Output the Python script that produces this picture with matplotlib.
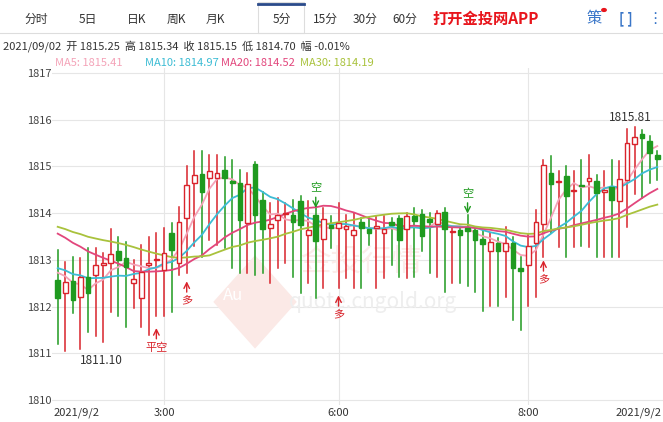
import matplotlib
matplotlib.use("Agg")
import matplotlib.pyplot as plt
import numpy as np
from matplotlib.patches import Rectangle, Polygon

plt.rcParams['font.family'] = ['Noto Sans CJK SC', 'DejaVu Sans']

opens = [1812.57,1812.29,1812.55,1812.21,1812.64,1812.68,1812.89,1812.93,1813.18,1813.05,
         1812.50,1812.18,1812.88,1813.00,1812.79,1813.57,1812.93,1813.89,1814.64,1814.84,
         1814.76,1814.76,1814.93,1814.69,1814.64,1813.79,1815.05,1814.29,1813.69,1813.86,
         1813.99,1813.95,1814.25,1813.54,1813.95,1813.45,1813.75,1813.69,1813.66,1813.54,
         1813.81,1813.66,1813.69,1813.57,1813.81,1813.89,1813.66,1813.93,1813.98,1813.88,
         1813.76,1814.02,1813.60,1813.64,1813.68,1813.64,1813.44,1813.18,1813.36,1813.20,
         1813.36,1812.82,1812.89,1813.37,1813.77,1814.87,1814.66,1814.80,1814.48,1814.60,
         1814.69,1814.69,1814.46,1814.56,1814.27,1814.71,1815.49,1815.70,1815.54,1815.25]
closes = [1812.18,1812.52,1812.14,1812.64,1812.29,1812.89,1812.94,1813.12,1813.00,1812.84,
          1812.60,1812.75,1812.93,1813.02,1813.14,1813.21,1813.82,1814.61,1814.82,1814.46,
          1814.91,1814.86,1814.75,1814.64,1813.86,1814.62,1813.96,1813.66,1813.76,1813.95,
          1814.00,1813.82,1813.75,1813.64,1813.41,1813.88,1813.69,1813.79,1813.73,1813.64,
          1813.68,1813.57,1813.72,1813.66,1813.75,1813.43,1813.93,1813.84,1813.52,1813.81,
          1814.00,1813.66,1813.61,1813.54,1813.61,1813.43,1813.34,1813.39,1813.18,1813.36,
          1812.82,1812.77,1813.29,1813.80,1815.04,1814.63,1814.68,1814.37,1814.50,1814.58,
          1814.75,1814.43,1814.50,1814.29,1814.73,1815.51,1815.62,1815.61,1815.29,1815.15]
highs = [1813.21,1812.96,1813.07,1813.04,1813.25,1813.25,1813.14,1813.66,1813.50,1813.39,
         1813.00,1813.32,1813.50,1813.57,1813.68,1813.79,1814.14,1815.00,1815.34,1815.32,
         1815.25,1815.25,1815.21,1815.14,1814.93,1814.86,1815.10,1814.46,1814.21,1814.32,
         1814.21,1814.29,1814.36,1814.25,1814.14,1814.11,1813.93,1814.21,1813.96,1814.00,
         1813.89,1813.89,1813.93,1813.93,1813.89,1813.93,1814.00,1814.11,1814.07,1814.00,
         1814.04,1814.11,1813.71,1813.71,1813.96,1813.68,1813.61,1813.57,1813.46,1813.70,
         1813.50,1813.07,1813.54,1814.07,1815.14,1815.23,1814.91,1815.01,1814.91,1815.14,
         1815.25,1814.82,1814.91,1815.14,1815.11,1815.81,1815.84,1815.79,1815.66,1815.34]
lows = [1811.20,1811.04,1811.86,1811.10,1811.46,1811.36,1811.25,1811.89,1811.79,1811.57,
        1811.96,1811.57,1811.39,1811.79,1811.79,1811.89,1812.68,1812.71,1813.29,1813.07,
        1813.43,1813.32,1813.25,1812.82,1812.71,1812.71,1812.68,1812.71,1812.50,1812.82,
        1812.93,1812.64,1812.29,1812.50,1812.18,1812.39,1813.25,1812.39,1812.61,1812.39,
        1812.39,1813.32,1812.39,1812.61,1812.89,1812.64,1812.61,1812.64,1813.18,1812.71,
        1812.64,1812.32,1812.50,1812.50,1812.43,1812.32,1811.91,1812.01,1812.01,1812.21,
        1811.71,1811.50,1812.01,1812.21,1813.07,1813.57,1813.27,1813.07,1813.27,1813.29,
        1813.27,1813.07,1813.07,1813.07,1813.07,1813.71,1814.41,1814.32,1814.64,1814.70]
# estimated closes before the visible window (feed the moving averages)
history = [1814.0]*10 + [1814.3]*10 + [1813.0,1812.95,1812.9,1812.9,1812.85,1812.9,1812.85,1812.8,1812.9]
time_labels = ['2021/9/2', '3:00', '6:00', '8:00', '2021/9/2']
time_idx = [None, 14, 37, 62, None]
yticks = [1810, 1811, 1812, 1813, 1814, 1815, 1816, 1817]

RED = '#d9232b'; GREEN = '#1f9a1f'
MA_COLORS = {5: '#f4a3b8', 10: '#3cbcd4', 20: '#e2467c', 30: '#a9c23c'}

W, H = 663, 422
fig = plt.figure(figsize=(W/100, H/100), dpi=100)
ax = fig.add_axes([52/W, 1-405/H, 1-52/W, (405-68)/H])
n = len(opens)
x = np.arange(n)
ax.set_xlim(-0.75, n - 0.25)
ax.set_ylim(1810 - 5/46.7, 1817 + 5/46.7)

for yv in yticks:
    ax.axhline(yv, color='#e6e6e6', lw=0.8, zorder=0)
for ti in time_idx:
    if ti is not None:
        ax.axvline(ti, color='#e6e6e6', lw=0.8, zorder=0)

# watermark
ax.add_patch(Polygon([(20.5, 1812.1), (26, 1813.1), (31.5, 1812.1), (26, 1811.1)], closed=True,
                     facecolor='#fbe9e6', edgecolor='none', zorder=0.5))
ax.text(21.8, 1812.15, 'Au', fontsize=12, color='white', zorder=0.6)
ax.text(40, 1812.95, '金投行情', fontsize=22, color='#fbecea', ha='center', va='center', zorder=0.5)
ax.text(41.5, 1812.1, 'quote.cngold.org', fontsize=15, color='#eeeeee', ha='center', va='center', zorder=0.5)

allc = np.array(history + closes)
for p, c in MA_COLORS.items():
    ma = np.array([allc[i+len(history)-p+1:i+len(history)+1].mean() for i in range(n)])
    ax.plot(x, ma, color=c, lw=1.3, zorder=3)

bw = 0.62
for i in range(n):
    o, c, h, l = opens[i], closes[i], highs[i], lows[i]
    up = c >= o
    col = RED if up else GREEN
    lo, hi = min(o, c), max(o, c)
    ax.plot([i, i], [l, lo], color=col, lw=1.1, zorder=2)
    ax.plot([i, i], [hi, h], color=col, lw=1.1, zorder=2)
    bh = max(hi - lo, 0.015)
    if up:
        ax.add_patch(Rectangle((i - bw/2, lo), bw, bh, facecolor='white', edgecolor=col, lw=1.0, zorder=4))
    else:
        ax.add_patch(Rectangle((i - bw/2, lo), bw, bh, facecolor=col, edgecolor=col, lw=1.0, zorder=4))

ax.text(75.5, 1815.9, '1815.81', fontsize=8.5, color='#333333', ha='center', va='bottom', zorder=5)
ax.text(5.8, 1810.98, '1811.10', fontsize=8.5, color='#333333', ha='center', va='top', zorder=5)

def sig(i, y, txt, up):
    col = RED if up else GREEN
    if up:
        ax.annotate('', xy=(i, y), xytext=(i, y - 0.35),
                    arrowprops=dict(arrowstyle='->', color=col, lw=1), zorder=5)
        ax.text(i, y - 0.37, txt, color=col, fontsize=8, ha='center', va='top', zorder=5)
    else:
        ax.annotate('', xy=(i, y), xytext=(i, y + 0.35),
                    arrowprops=dict(arrowstyle='->', color=col, lw=1), zorder=5)
        ax.text(i, y + 0.37, txt, color=col, fontsize=8, ha='center', va='bottom', zorder=5)

sig(13, 1811.6, '平空', True)
sig(17, 1812.6, '多', True)
sig(34, 1814.05, '空', False)
sig(37, 1812.3, '多', True)
sig(54, 1813.93, '空', False)
sig(64, 1813.05, '多', True)

ax.set_yticks(yticks)
ax.set_yticklabels([str(v) for v in yticks], fontsize=8, color='#444444', ha='left')
ax.tick_params(axis='y', length=0, pad=18)
ax.set_xticks([])
for s in ax.spines.values():
    s.set_visible(False)

ylab = 1 - 413/H
fig.text(54/W, ylab, time_labels[0], fontsize=8, color='#333333', va='center', ha='left')
for lab, ti in zip(time_labels[1:4], time_idx[1:4]):
    xp = (57.7 + 7.59*ti)/W
    fig.text(xp, ylab, lab, fontsize=8, color='#333333', va='center', ha='center')
fig.text(662/W, ylab, time_labels[4], fontsize=8, color='#333333', va='center', ha='right')

# top toolbar
fig.add_artist(plt.Line2D([0, 1], [1-33/H, 1-33/H], color='#dddddd', lw=0.8))
fig.add_artist(Rectangle((258/W, 1-33/H), 46/W, 31/H, facecolor='white', edgecolor='#dddddd', lw=0.8))
fig.add_artist(plt.Line2D([258/W, 304/W], [1-4/H, 1-4/H], color='#2a4a8a', lw=2))
tabs = ['分时', '5日', '日K', '周K', '月K', '5分', '15分', '30分', '60分']
tabx = [36, 88, 137, 176, 215, 282, 325, 365, 405]
for t, tx in zip(tabs, tabx):
    fig.text(tx/W, 1-19/H, t, fontsize=8.5, color='#333333', ha='center', va='center')
fig.text(432/W, 1-19/H, '打开金投网APP', fontsize=11, color='#e8151c', fontweight='bold', ha='left', va='center')
fig.text(594/W, 1-19/H, '策', fontsize=11, color='#3a76c8', ha='center', va='center')
fig.add_artist(plt.Circle((604/W, 1-10/H), 2.2/W, color='#e8151c', transform=fig.transFigure))
fig.text(626/W, 1-19/H, '[ ]', fontsize=10, color='#3a76c8', ha='center', va='center', fontweight='bold')
fig.text(655/W, 1-19/H, '⋮', fontsize=11, color='#3a76c8', ha='center', va='center', family=['DejaVu Sans'])

fig.text(3/W, 1-46/H, '2021/09/02  开 1815.25  高 1815.34  收 1815.15  低 1814.70  幅 -0.01%',
         fontsize=8, color='#333333', ha='left', va='center')
ma_txt = [('MA5: 1815.41', 5, 55), ('MA10: 1814.97', 10, 145), ('MA20: 1814.52', 20, 221), ('MA30: 1814.19', 30, 300)]
for t, p, tx in ma_txt:
    fig.text(tx/W, 1-63/H, t, fontsize=8, color=MA_COLORS[p], ha='left', va='center')

fig.savefig('out.png', dpi=100, facecolor='white')
